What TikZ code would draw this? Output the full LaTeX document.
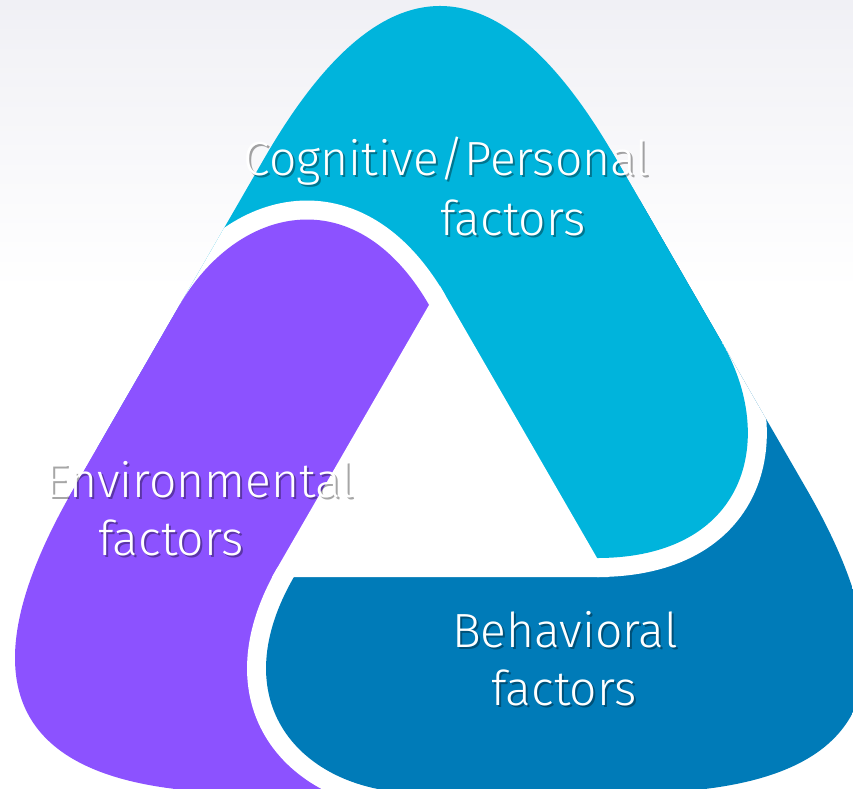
\documentclass[tikz,border=0pt]{standalone}
\usepackage{fontspec}
\setmainfont{Fira Sans}[UprightFont={* Light}]
\definecolor{cyanband}{RGB}{0,180,220}
\definecolor{purpleband}{RGB}{140,82,255}
\definecolor{blueband}{RGB}{0,123,184}
\definecolor{bgtop}{RGB}{240,240,245}
\begin{document}
\begin{tikzpicture}[x=1pt,y=-1pt,
  capK/.style={insert path={(721.7,342) .. controls (777.9,439.2) and (746.7,558) .. (597,558)}},
  mainR/.style={insert path={(721.7,342) .. controls (777.9,439.2) and (746.7,558) .. (597,558) -- (440,480) -- (-300,410) -- (-300,-300) -- (1100,-300) -- (1100,342) -- cycle}},
  localR/.style={insert path={(721.7,342) .. controls (777.9,439.2) and (746.7,558) .. (597,558) -- (480,480) -- (520,150) -- (800,150) -- (880,342) -- cycle}},
  outerP/.style={insert path={(264.5,158) -- (73.5,489) .. controls (-43.5,691.7) and (15,793) .. (249,793) -- (631,793) .. controls (865,793) and (923.5,691.7) .. (806.5,489) -- (615.5,158) .. controls (498.5,-44.7) and (381.5,-44.7) .. (264.5,158) -- cycle}},
  gapline/.style={draw=white, line width=38pt},
  lbl/.style={text=white, font=\fontsize{48}{56}\selectfont, anchor=base, inner sep=0pt},
  lblshadow/.style={lbl, text=black, text opacity=0.35},
]
\useasboundingbox (0,0) rectangle (853,788);
\fill[white] (0,0) rectangle (853,788);
\shade[top color=bgtop, bottom color=white] (0,0) rectangle (853,290);
\begin{scope}
  \clip[outerP];
  % main bodies
  \fill[cyanband, mainR];
  \fill[purpleband, rotate around={120:(440,480)}, mainR];
  \fill[blueband, rotate around={-120:(440,480)}, mainR];
  % rounded ends with white gaps
  \draw[gapline, capK];
  \fill[cyanband, localR];
  \draw[gapline, rotate around={120:(440,480)}, capK];
  \fill[purpleband, rotate around={120:(440,480)}, localR];
  \draw[gapline, rotate around={-120:(440,480)}, capK];
  \fill[blueband, rotate around={-120:(440,480)}, localR];
\end{scope}
% inner hole
\fill[white] (440,286) -- (272,577) -- (608,577) -- cycle;
% labels (each with its soft drop shadow)
\node[lblshadow] (s1) at (448.5,177.5) {Cognitive/Personal};
\node[lbl] (t1) at (446.5,175) {Cognitive/Personal};
\node[lblshadow] (s2) at (515,237.5) {factors};
\node[lbl] (t2) at (513,235) {factors};
\node[lblshadow] (s3) at (202,499.5) {Environmental};
\node[lbl] (t3) at (200,497) {Environmental};
\node[lblshadow] (s4) at (173,557.5) {factors};
\node[lbl] (t4) at (171,555) {factors};
\node[lblshadow] (s5) at (567,649.5) {Behavioral};
\node[lbl] (t5) at (565,647) {Behavioral};
\node[lblshadow] (s6) at (566,707.5) {factors};
\node[lbl] (t6) at (564,705) {factors};
\end{tikzpicture}
\end{document}
